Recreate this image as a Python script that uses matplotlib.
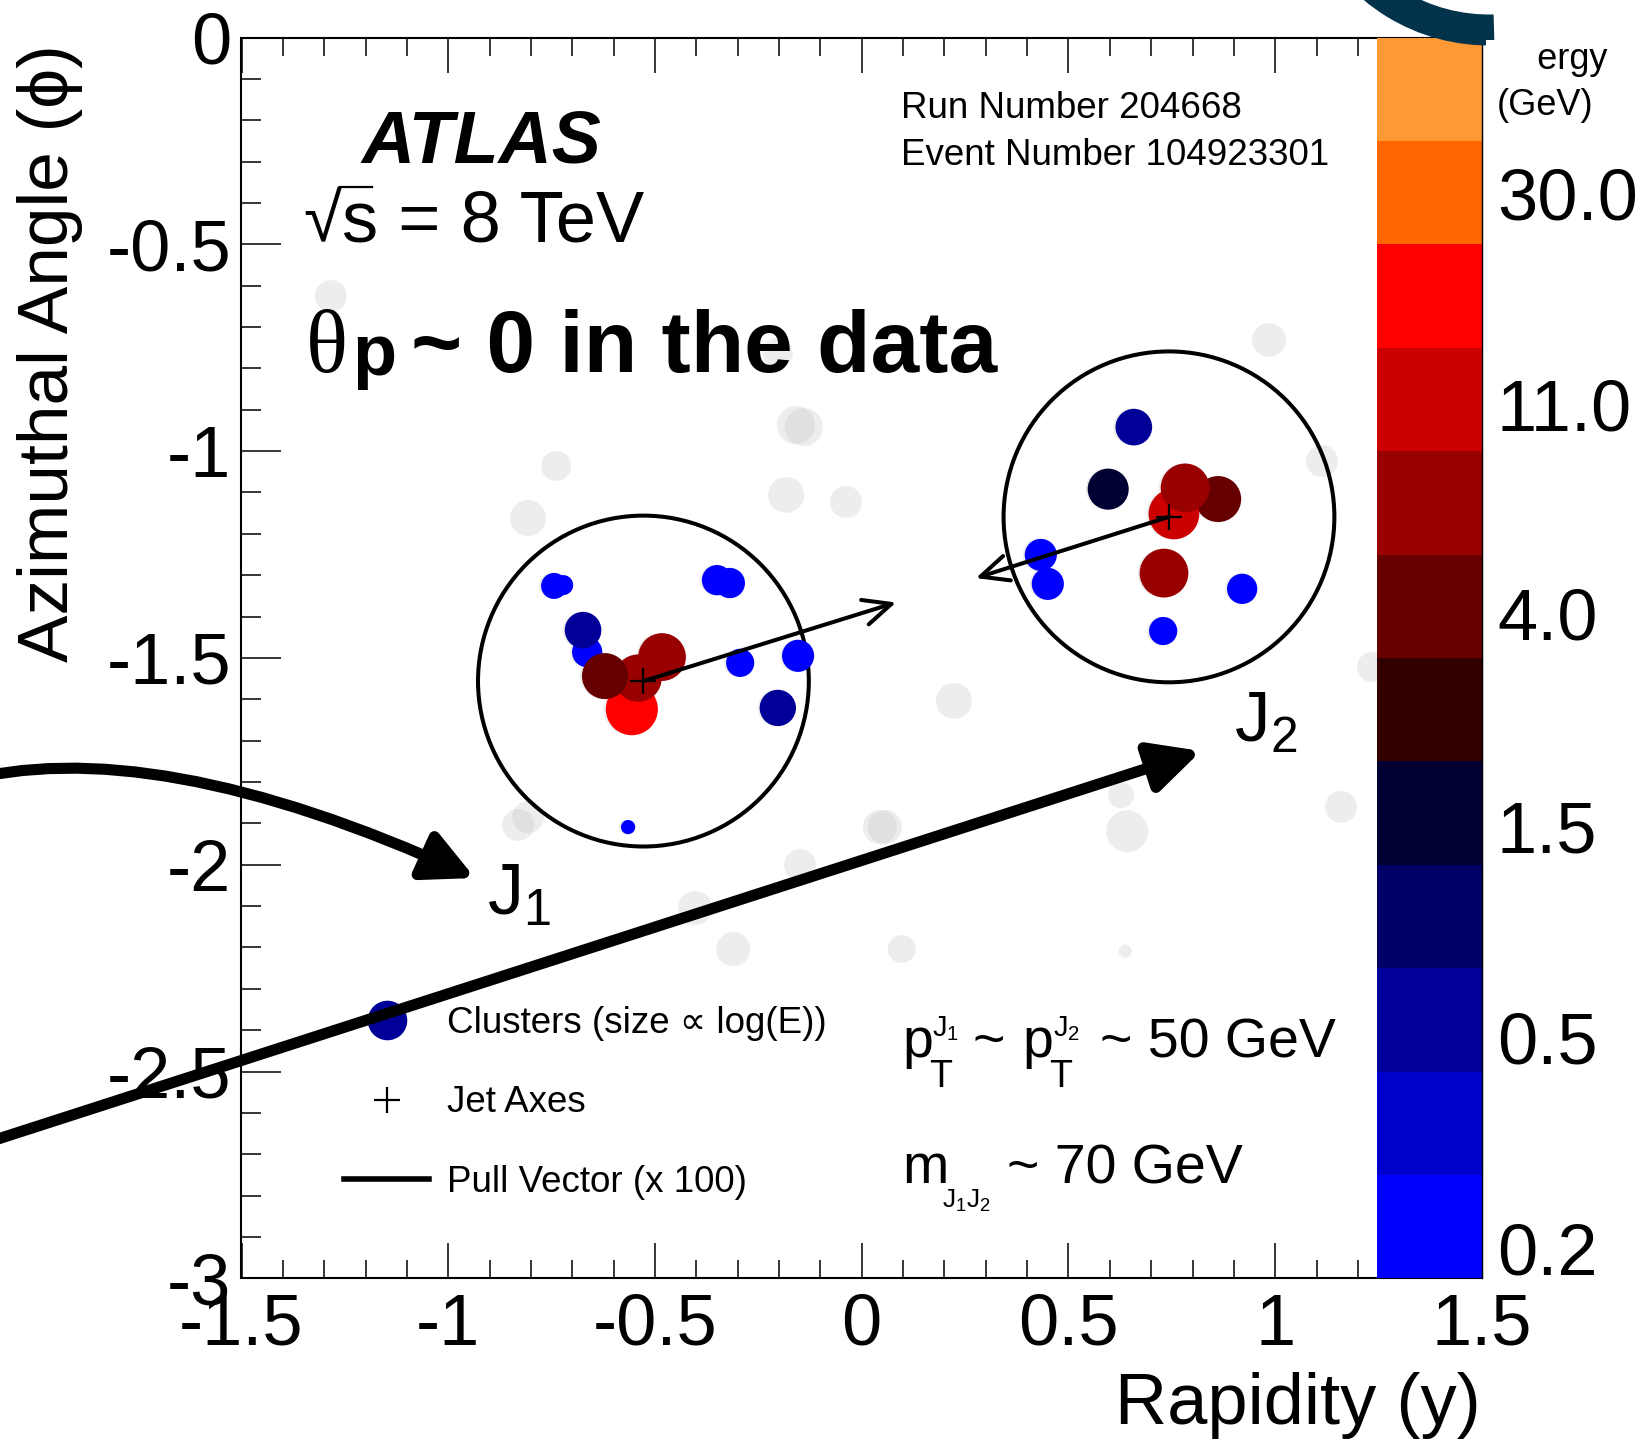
import numpy as np
import matplotlib
matplotlib.use("Agg")
import matplotlib.pyplot as plt
from matplotlib.patches import Circle, Wedge, Rectangle, FancyArrowPatch
from matplotlib.path import Path
from matplotlib.colors import ListedColormap, BoundaryNorm
from matplotlib.cm import ScalarMappable
from matplotlib.lines import Line2D
from matplotlib.ticker import MultipleLocator
from matplotlib.transforms import Affine2D
from matplotlib.textpath import TextPath
from matplotlib.font_manager import FontProperties

# ---------------- data ----------------
energy_bounds = [0.177, 0.257, 0.423, 0.656, 1.15, 2.10, 3.13, 5.16, 8.50, 14.0, 23.1, 37.2, 62.8]
energy_colors = ['#0000ff', '#0000cc', '#000099', '#000066', '#000033', '#330000',
                 '#660000', '#990000', '#cc0000', '#ff0000', '#ff6600', '#ff9933']
cbar_ticks = [0.2, 0.5, 1.5, 4.0, 11.0, 30.0]
cbar_tick_labels = ['0.2', '0.5', '1.5', '4.0', '11.0', '30.0']

x_ticks = [-1.5, -1.0, -0.5, 0.0, 0.5, 1.0, 1.5]
x_tick_labels = ['-1.5', '-1', '-0.5', '0', '0.5', '1', '1.5']
y_ticks = [0.0, -0.5, -1.0, -1.5, -2.0, -2.5, -3.0]
y_tick_labels = ['0', '-0.5', '-1', '-1.5', '-2', '-2.5', '-3']

# clusters of jet 1 (rapidity, phi, energy in GeV)
j1_rap = [-0.744, -0.722, -0.664, -0.556, -0.541, -0.483, -0.674, -0.621,
          -0.350, -0.319, -0.294, -0.154, -0.203, -0.565]
j1_phi = [-1.326, -1.324, -1.486, -1.624, -1.549, -1.498, -1.433, -1.544,
          -1.312, -1.319, -1.512, -1.495, -1.621, -1.909]
j1_E = [0.07, 0.02, 0.17, 16.0, 6.0, 6.5, 0.64, 4.5,
        0.17, 0.17, 0.11, 0.25, 0.6, 0.006]

# clusters of jet 2
j2_rap = [0.433, 0.450, 0.658, 0.596, 0.862, 0.755, 0.782, 0.731, 0.920, 0.729]
j2_phi = [-1.251, -1.321, -0.942, -1.092, -1.116, -1.152, -1.089, -1.295, -1.333, -1.435]
j2_E = [0.25, 0.25, 0.64, 1.6, 4.5, 12.0, 8.0, 8.0, 0.17, 0.11]

# other clusters (not in the jets, drawn grey)
bg_rap = [-1.284, -0.203, -0.159, -0.140, -0.739, -0.807, -0.183, -0.038,
          0.985, 1.113, 1.234, 0.223, -0.831, -0.807, 0.056, 0.044,
          0.627, 0.642, 1.159, -0.149, -0.403, -0.311, 0.097, 0.637]
bg_phi = [-0.625, -0.763, -0.937, -0.942, -1.036, -1.162, -1.106, -1.123,
          -0.731, -1.024, -1.522, -1.604, -1.904, -1.885, -1.909, -1.909,
          -1.832, -1.919, -1.860, -2.001, -2.105, -2.204, -2.204, -2.209]
bg_E = [0.24, 0.16, 0.85, 0.85, 0.16, 0.56, 0.56, 0.24,
        0.37, 0.24, 0.16, 0.56, 0.24, 0.24, 0.37, 0.37,
        0.07, 1.95, 0.24, 0.24, 0.37, 0.37, 0.105, 0.0046]

# jets
jet_rap = [-0.528, 0.743]
jet_phi = [-1.556, -1.159]
jet_R = 0.4
pull_drap = [0.611, -0.467]   # pull vector x 100
pull_dphi = [0.190, -0.148]

legend_labels = ['Clusters (size \u221d log(E))', 'Jet Axes', 'Pull Vector (x 100)']


def cluster_radius(e):
    # marker radius (data units) proportional to log(E)
    return 0.0469 + 0.0058 * np.log(e)


# ---------------- style ----------------
W, H = 1649, 1441
plt.rcParams['font.family'] = ['Liberation Sans', 'DejaVu Sans']
plt.rcParams['mathtext.fontset'] = 'custom'
plt.rcParams['mathtext.rm'] = 'Liberation Sans'
plt.rcParams['mathtext.sf'] = 'Liberation Sans'
plt.rcParams['mathtext.it'] = 'Liberation Sans:italic'
plt.rcParams['mathtext.bf'] = 'Liberation Sans:bold'

fig = plt.figure(figsize=(W / 100, H / 100), dpi=100)
ax = fig.add_axes([241.5 / W, 1 - 1278.3 / H, 1240.5 / W, 1240.8 / H])
cax = fig.add_axes([1377 / W, 1 - 1278.3 / H, 105 / W, 1240.8 / H])

px = Affine2D().scale(1 / W, 1 / H) + fig.transFigure


def P(x, y):
    return (x, H - y)


def ftext(x, y, s, **kw):
    kw.setdefault('va', 'baseline')
    return fig.text(x / W, 1 - y / H, s, **kw)


cmap = ListedColormap(energy_colors)
norm = BoundaryNorm(energy_bounds, cmap.N, clip=True)

# grey clusters
for r, p, e in zip(bg_rap, bg_phi, bg_E):
    ax.add_patch(Circle((r, p), cluster_radius(e), fc='#bbbbbb', ec='none',
                        alpha=0.25, zorder=1))

# jet circles
for r, p in zip(jet_rap, jet_phi):
    ax.add_patch(Circle((r, p), jet_R, fill=False, ec='black', lw=2.9, zorder=2))

# coloured jet constituents (with faint grey shadow)
for rr, pp, ee in ((j1_rap, j1_phi, j1_E), (j2_rap, j2_phi, j2_E)):
    for r, p, e in zip(rr, pp, ee):
        ax.add_patch(Circle((r - 0.005, p), cluster_radius(e), fc='#bbbbbb',
                            ec='none', alpha=0.25, zorder=1.5))
    for r, p, e in zip(rr, pp, ee):
        ax.add_patch(Circle((r, p), cluster_radius(e), fc=cmap(norm(e)),
                            ec='none', zorder=3))

# jet axes and pull vectors
ax.plot(jet_rap, jet_phi, ls='none', marker='+', ms=19, mew=1.6,
        color='black', zorder=6)
for i in range(len(jet_rap)):
    ax.annotate('', xy=(jet_rap[i] + pull_drap[i], jet_phi[i] + pull_dphi[i]),
                xytext=(jet_rap[i], jet_phi[i]),
                arrowprops=dict(arrowstyle='->,head_length=0.5,head_width=0.23',
                                lw=2.9, color='black', shrinkA=0, shrinkB=0,
                                mutation_scale=40),
                zorder=6)

ax.set_xlim(-1.5, 1.5)
ax.set_ylim(-3.0, 0.0)
ax.set_xticks(x_ticks)
ax.set_xticklabels(x_tick_labels)
ax.set_yticks(y_ticks)
ax.set_yticklabels(y_tick_labels)
ax.xaxis.set_minor_locator(MultipleLocator(0.1))
ax.yaxis.set_minor_locator(MultipleLocator(0.1))
ax.tick_params(axis='x', which='major', direction='in', length=25, width=1.1,
               top=True, bottom=True, labelsize=52, pad=10.5)
ax.tick_params(axis='x', which='minor', direction='in', length=13, width=1.1,
               top=True, bottom=True)
ax.tick_params(axis='y', which='major', direction='in', length=29, width=1.1,
               left=True, right=True, labelsize=52, pad=7.5)
ax.tick_params(axis='y', which='minor', direction='in', length=14.4, width=1.1,
               left=True, right=True)
for s in ax.spines.values():
    s.set_linewidth(1.5)

# colour scale
sm = ScalarMappable(norm=norm, cmap=cmap)
cb = fig.colorbar(sm, cax=cax, spacing='uniform', ticks=cbar_ticks)
cb.ax.set_yticklabels(cbar_tick_labels)
cb.ax.tick_params(which='both', length=0, labelsize=52, pad=10.8)
cb.ax.minorticks_off()
cb.outline.set_visible(False)
cax.plot([1, 1], [0, 1], transform=cax.transAxes, color='black', lw=1, clip_on=False)

# axis titles
fig.text(50 / W, 1 - 44 / H, 'Azimuthal Angle (\u03d5)', rotation=90,
         ha='center', va='top', fontsize=51.3)
ftext(1481, 1424, 'Rapidity (y)', ha='right', fontsize=52)

# ATLAS label and energy
ftext(362, 163, 'ATLAS', fontsize=53, fontweight='bold', fontstyle='italic')
rad_fs = 50
rad_x, rad_base = 303, 241
ftext(rad_x, rad_base, '\u221a', fontsize=rad_fs)
tp = TextPath((0, 0), '\u221a', size=rad_fs * 100 / 72,
              prop=FontProperties(family='Liberation Sans'))
ext = tp.get_extents()
top_y = rad_base - ext.y1 + 1
fig.add_artist(Line2D([rad_x + ext.x1 - 1.5, 372], [H - top_y, H - top_y],
                      color='black', lw=1.6, transform=px))
ftext(rad_x + ext.x1 + 1, rad_base, 's = 8 TeV', fontsize=52)

# theta_p headline
ftext(306, 372, '\u03b8', fontsize=63, family=['Liberation Serif', 'DejaVu Serif'])
ftext(352, 375, 'p', fontsize=52, fontweight='bold')
ftext(411, 372, '~ 0 in the data', fontsize=63, fontweight='bold')

# event info
ftext(901, 118, 'Run Number 204668', fontsize=26.5)
ftext(901, 165, 'Event Number 104923301', fontsize=26.5)

# kinematics
ftext(902, 1057, 'p', fontsize=40)
ftext(932, 1036, r'$\mathsf{J}_{\mathsf{1}}$', fontsize=21)
ftext(929, 1087, 'T', fontsize=27)
ftext(973, 1057, '~', fontsize=40)
ftext(1022, 1057, 'p', fontsize=40)
ftext(1053, 1036, r'$\mathsf{J}_{\mathsf{2}}$', fontsize=21)
ftext(1049, 1087, 'T', fontsize=27)
ftext(1100, 1057, '~ 50 GeV', fontsize=40)

ftext(902, 1183, 'm', fontsize=40)
ftext(942, 1208, r'$\mathsf{J}_{\mathsf{1}}\mathsf{J}_{\mathsf{2}}$', fontsize=19)
ftext(1007, 1183, '~ 70 GeV', fontsize=40)

# jet labels
ftext(487, 915, r'$\mathsf{J}_{\mathsf{1}}$', fontsize=52)
ftext(1234, 742, r'$\mathsf{J}_{\mathsf{2}}$', fontsize=51)

# colour scale title (partly masked in the original)
ftext(1493, 69, 'Energy', fontsize=26)
ftext(1497, 115, '(GeV)', fontsize=26)

# legend
handles = [Line2D([], [], ls='none', marker='o', ms=27.5, mfc='#000099', mec='#000099'),
           Line2D([], [], ls='none', marker='+', ms=19, mew=1.6, color='black'),
           Line2D([], [], color='black', lw=4)]
fig.legend(handles, legend_labels, loc='center left',
           bbox_to_anchor=(344 / W, 1 - 1103 / H), frameon=False, fontsize=26.5,
           handlelength=2.31, handletextpad=0.49, labelspacing=1.2,
           borderpad=0, borderaxespad=0)

# overlaid annotation arrows
straight = FancyArrowPatch(posA=P(-30, 1148), posB=P(1201, 751),
                           arrowstyle='-|>,head_length=0.6,head_width=0.3',
                           mutation_scale=50, lw=8, color='black',
                           shrinkA=0, shrinkB=0, transform=px, zorder=20)
fig.add_artist(straight)
curve_path = Path([P(-40, 782), P(150, 730), P(475, 878)],
                  [Path.MOVETO, Path.CURVE3, Path.CURVE3])
curved = FancyArrowPatch(path=curve_path,
                         arrowstyle='-|>,head_length=0.6,head_width=0.3',
                         mutation_scale=50, lw=8, color='black',
                         transform=px, zorder=20)
fig.add_artist(curved)

# slide decoration (dark arc) and masked part of the colour title
fig.add_artist(Wedge(P(1489, -150), 195.5, 205, 271.6, width=31, fc='#03324b',
                     ec='none', transform=px, zorder=21))
fig.add_artist(Rectangle(P(1486, 82), 49, 42, fc='white', ec='none',
                         transform=px, zorder=21))

fig.savefig('out.png', dpi=100)
